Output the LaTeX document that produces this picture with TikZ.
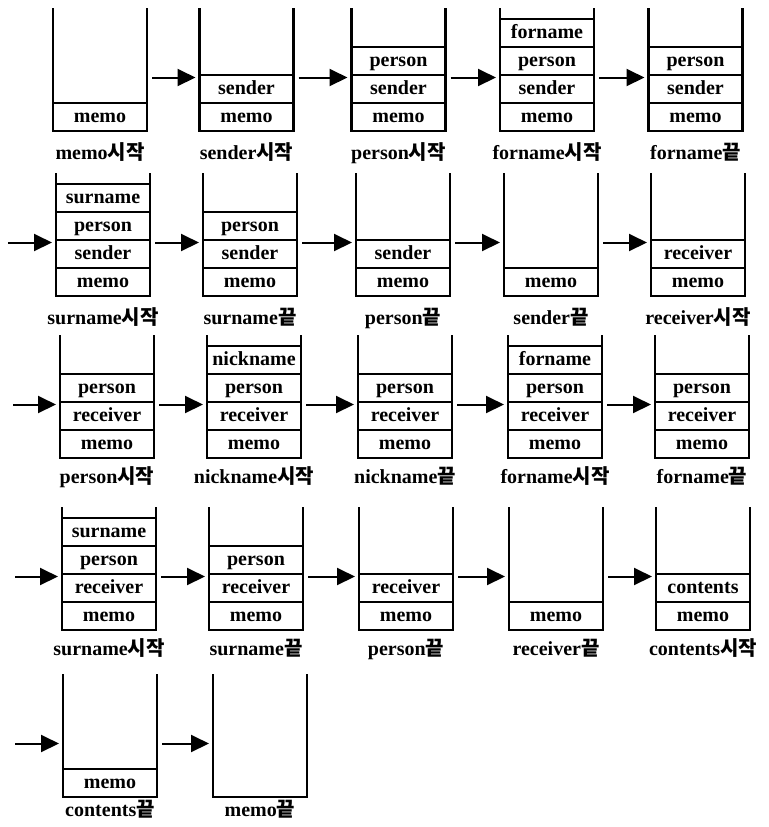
\documentclass[tikz,border=0pt]{standalone}
\usepackage{fontspec}
\setmainfont{Liberation Serif}
\newfontfamily\hangul{Noto Sans CJK KR}
\usetikzlibrary{
  arrows.meta,
  positioning
}

\begin{document}
\begin{tikzpicture}[
    x=0.5pt, y=-0.5pt,
    every node/.style={font=\fontsize{10}{12}\selectfont\bfseries, inner sep=0pt, outer sep=0pt},
    stack/.style={
      minimum width=47pt, minimum height=61.5pt,
      append after command={\pgfextra{\let\stk\tikzlastnode
        \draw[line width=1.1pt] (\stk.north west) |- (\stk.south east) -- (\stk.north east);}}
    },
    cell/.style={
      draw, line width=0.75pt,
      minimum width=47pt, minimum height=14pt,
      text height=6.8pt, text depth=1.8pt
    },
    arrow/.style={-{Triangle[length=9pt, width=8.5pt]}, line width=1pt,
      shorten <=2.5pt, shorten >=2pt},
  ]
  \useasboundingbox (0,0) rectangle (768,827);

  % --- Row 1 ---
  \node[stack] (s1) at (100,69.5) {};
  \node[cell, above=0pt of s1.south] (s1a) {memo};
  \node[below=6pt of s1] (l1) {memo\hangul 시작};

  \node[stack] (s2) at (246.5,69.5) {};
  \node[cell, above=0pt of s2.south] (s2a) {memo};
  \node[cell, above=0pt of s2a] (s2b) {sender};
  \node[below=6pt of s2] (l2) {sender\hangul 시작};

  \node[stack] (s3) at (398.5,69.5) {};
  \node[cell, above=0pt of s3.south] (s3a) {memo};
  \node[cell, above=0pt of s3a] (s3b) {sender};
  \node[cell, above=0pt of s3b] (s3c) {person};
  \node[below=6pt of s3] (l3) {person\hangul 시작};

  \node[stack] (s4) at (547,69.5) {};
  \node[cell, above=0pt of s4.south] (s4a) {memo};
  \node[cell, above=0pt of s4a] (s4b) {sender};
  \node[cell, above=0pt of s4b] (s4c) {person};
  \node[cell, above=0pt of s4c] (s4d) {forname};
  \node[below=6pt of s4] (l4) {forname\hangul 시작};

  \node[stack] (s5) at (695.5,69.5) {};
  \node[cell, above=0pt of s5.south] (s5a) {memo};
  \node[cell, above=0pt of s5a] (s5b) {sender};
  \node[cell, above=0pt of s5b] (s5c) {person};
  \node[below=6pt of s5] (l5) {forname\hangul 끝};

  % --- Row 2 ---
  \node[stack] (s6) at (103,234.5) {};
  \node[cell, above=0pt of s6.south] (s6a) {memo};
  \node[cell, above=0pt of s6a] (s6b) {sender};
  \node[cell, above=0pt of s6b] (s6c) {person};
  \node[cell, above=0pt of s6c] (s6d) {surname};
  \node[below=6pt of s6] (l6) {surname\hangul 시작};

  \node[stack] (s7) at (250,234.5) {};
  \node[cell, above=0pt of s7.south] (s7a) {memo};
  \node[cell, above=0pt of s7a] (s7b) {sender};
  \node[cell, above=0pt of s7b] (s7c) {person};
  \node[below=6pt of s7] (l7) {surname\hangul 끝};

  \node[stack] (s8) at (403,234.5) {};
  \node[cell, above=0pt of s8.south] (s8a) {memo};
  \node[cell, above=0pt of s8a] (s8b) {sender};
  \node[below=6pt of s8] (l8) {person\hangul 끝};

  \node[stack] (s9) at (551,234.5) {};
  \node[cell, above=0pt of s9.south] (s9a) {memo};
  \node[below=6pt of s9] (l9) {sender\hangul 끝};

  \node[stack] (s10) at (698,234.5) {};
  \node[cell, above=0pt of s10.south] (s10a) {memo};
  \node[cell, above=0pt of s10a] (s10b) {receiver};
  \node[below=6pt of s10] (l10) {receiver\hangul 시작};

  % --- Row 3 ---
  \node[stack] (s11) at (107,396.5) {};
  \node[cell, above=0pt of s11.south] (s11a) {memo};
  \node[cell, above=0pt of s11a] (s11b) {receiver};
  \node[cell, above=0pt of s11b] (s11c) {person};
  \node[below=4.5pt of s11] (l11) {person\hangul 시작};

  \node[stack] (s12) at (254,396.5) {};
  \node[cell, above=0pt of s12.south] (s12a) {memo};
  \node[cell, above=0pt of s12a] (s12b) {receiver};
  \node[cell, above=0pt of s12b] (s12c) {person};
  \node[cell, above=0pt of s12c] (s12d) {nickname};
  \node[below=4.5pt of s12] (l12) {nickname\hangul 시작};

  \node[stack] (s13) at (405,396.5) {};
  \node[cell, above=0pt of s13.south] (s13a) {memo};
  \node[cell, above=0pt of s13a] (s13b) {receiver};
  \node[cell, above=0pt of s13b] (s13c) {person};
  \node[below=4.5pt of s13] (l13) {nickname\hangul 끝};

  \node[stack] (s14) at (555,396.5) {};
  \node[cell, above=0pt of s14.south] (s14a) {memo};
  \node[cell, above=0pt of s14a] (s14b) {receiver};
  \node[cell, above=0pt of s14b] (s14c) {person};
  \node[cell, above=0pt of s14c] (s14d) {forname};
  \node[below=4.5pt of s14] (l14) {forname\hangul 시작};

  \node[stack] (s15) at (702,396.5) {};
  \node[cell, above=0pt of s15.south] (s15a) {memo};
  \node[cell, above=0pt of s15a] (s15b) {receiver};
  \node[cell, above=0pt of s15b] (s15c) {person};
  \node[below=4.5pt of s15] (l15) {forname\hangul 끝};

  % --- Row 4 ---
  \node[stack] (s16) at (109,568.5) {};
  \node[cell, above=0pt of s16.south] (s16a) {memo};
  \node[cell, above=0pt of s16a] (s16b) {receiver};
  \node[cell, above=0pt of s16b] (s16c) {person};
  \node[cell, above=0pt of s16c] (s16d) {surname};
  \node[below=4.5pt of s16] (l16) {surname\hangul 시작};

  \node[stack] (s17) at (256,568.5) {};
  \node[cell, above=0pt of s17.south] (s17a) {memo};
  \node[cell, above=0pt of s17a] (s17b) {receiver};
  \node[cell, above=0pt of s17b] (s17c) {person};
  \node[below=4.5pt of s17] (l17) {surname\hangul 끝};

  \node[stack] (s18) at (406,568.5) {};
  \node[cell, above=0pt of s18.south] (s18a) {memo};
  \node[cell, above=0pt of s18a] (s18b) {receiver};
  \node[below=4.5pt of s18] (l18) {person\hangul 끝};

  \node[stack] (s19) at (556,568.5) {};
  \node[cell, above=0pt of s19.south] (s19a) {memo};
  \node[below=4.5pt of s19] (l19) {receiver\hangul 끝};

  \node[stack] (s20) at (703,568.5) {};
  \node[cell, above=0pt of s20.south] (s20a) {memo};
  \node[cell, above=0pt of s20a] (s20b) {contents};
  \node[below=4.5pt of s20] (l20) {contents\hangul 시작};

  % --- Row 5 ---
  \node[stack] (s21) at (110,735.5) {};
  \node[cell, above=0pt of s21.south] (s21a) {memo};
  \node[below=1.5pt of s21] (l21) {contents\hangul 끝};

  \node[stack] (s22) at (260,735.5) {};
  \node[below=1.5pt of s22] (l22) {memo\hangul 끝};

  % --- Entry points of the wrapped rows ---
  \coordinate (in2) at (3,242.5);
  \coordinate (in3) at (8,404.5);
  \coordinate (in4) at (10,576.5);
  \coordinate (in5) at (10,743.5);

  % --- Arrows ---
  \draw[arrow] ([yshift=-4pt]s1.east) -- ([yshift=-4pt]s2.west);
  \draw[arrow] ([yshift=-4pt]s2.east) -- ([yshift=-4pt]s3.west);
  \draw[arrow] ([yshift=-4pt]s3.east) -- ([yshift=-4pt]s4.west);
  \draw[arrow] ([yshift=-4pt]s4.east) -- ([yshift=-4pt]s5.west);

  \draw[arrow] (in2) -- ([yshift=-4pt]s6.west);
  \draw[arrow] ([yshift=-4pt]s6.east) -- ([yshift=-4pt]s7.west);
  \draw[arrow] ([yshift=-4pt]s7.east) -- ([yshift=-4pt]s8.west);
  \draw[arrow] ([yshift=-4pt]s8.east) -- ([yshift=-4pt]s9.west);
  \draw[arrow] ([yshift=-4pt]s9.east) -- ([yshift=-4pt]s10.west);

  \draw[arrow] (in3) -- ([yshift=-4pt]s11.west);
  \draw[arrow] ([yshift=-4pt]s11.east) -- ([yshift=-4pt]s12.west);
  \draw[arrow] ([yshift=-4pt]s12.east) -- ([yshift=-4pt]s13.west);
  \draw[arrow] ([yshift=-4pt]s13.east) -- ([yshift=-4pt]s14.west);
  \draw[arrow] ([yshift=-4pt]s14.east) -- ([yshift=-4pt]s15.west);

  \draw[arrow] (in4) -- ([yshift=-4pt]s16.west);
  \draw[arrow] ([yshift=-4pt]s16.east) -- ([yshift=-4pt]s17.west);
  \draw[arrow] ([yshift=-4pt]s17.east) -- ([yshift=-4pt]s18.west);
  \draw[arrow] ([yshift=-4pt]s18.east) -- ([yshift=-4pt]s19.west);
  \draw[arrow] ([yshift=-4pt]s19.east) -- ([yshift=-4pt]s20.west);

  \draw[arrow] (in5) -- ([yshift=-4pt]s21.west);
  \draw[arrow] ([yshift=-4pt]s21.east) -- ([yshift=-4pt]s22.west);
\end{tikzpicture}
\end{document}
